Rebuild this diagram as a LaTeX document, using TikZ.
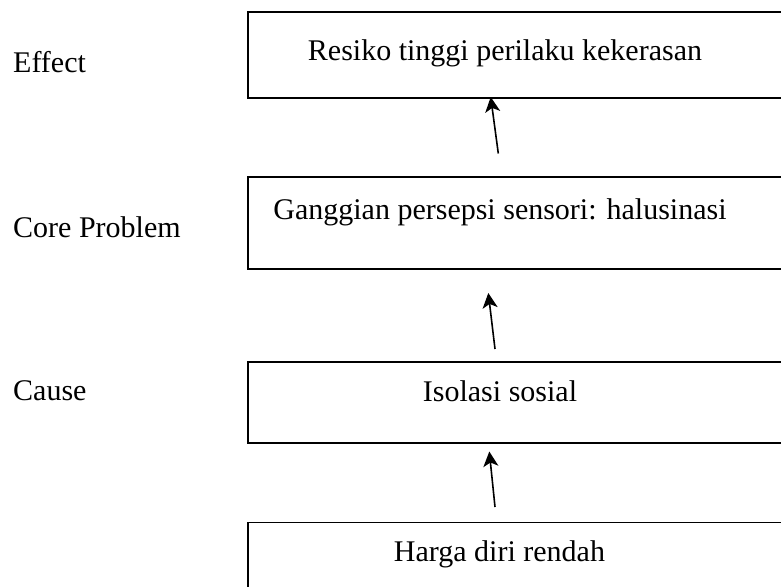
\documentclass[tikz,border=0pt]{standalone}
\usepackage{fontspec}
\setmainfont{Liberation Serif}
\usetikzlibrary{arrows.meta}
\begin{document}
\begin{tikzpicture}[x=1pt,y=-1pt,
  box/.style={draw, line width=1.8pt, rectangle, inner sep=0pt, anchor=north west, minimum width=620pt},
  lbl/.style={font=\fontsize{30}{36}\selectfont, inner sep=0pt},
  arr/.style={line width=1.6pt, -{Stealth[length=15pt,width=15pt,inset=4pt]}}]
\useasboundingbox (0,0) rectangle (781,586);
\clip (0,0) rectangle (781,586);
% boxes
\node[box, minimum height=86pt] (b1) at (247,11) {};
\node[box, minimum height=92pt] (b2) at (247,176) {};
\node[box, minimum height=81pt] (b3) at (247,361) {};
\node[box, minimum height=120pt] (b4) at (247,521.5) {};
% box texts
\node[lbl, anchor=base] (t1) at (505,60) {Resiko tinggi perilaku kekerasan};
\node[lbl, anchor=base] (t2) at (500,219) {Ganggian persepsi sensori: halusinasi};
\node[lbl, anchor=base] (t3) at (500,401) {Isolasi sosial};
\node[lbl, anchor=base] (t4) at (499.5,561) {Harga diri rendah};
% left labels
\node[lbl, anchor=base west] (l1) at (13,72) {Effect};
\node[lbl, anchor=base west] (l2) at (13,237) {Core Problem};
\node[lbl, anchor=base west] (l3) at (13,400) {Cause};
% arrows
\coordinate (a1s) at (498.3,153.5);
\coordinate (a1e) at (490.7,97);
\coordinate (a2s) at (495,349);
\coordinate (a2e) at (488.3,293);
\coordinate (a3s) at (495,507);
\coordinate (a3e) at (489.3,451.5);
\draw[arr] (a1s) -- (a1e);
\draw[arr] (a2s) -- (a2e);
\draw[arr] (a3s) -- (a3e);
\end{tikzpicture}
\end{document}
